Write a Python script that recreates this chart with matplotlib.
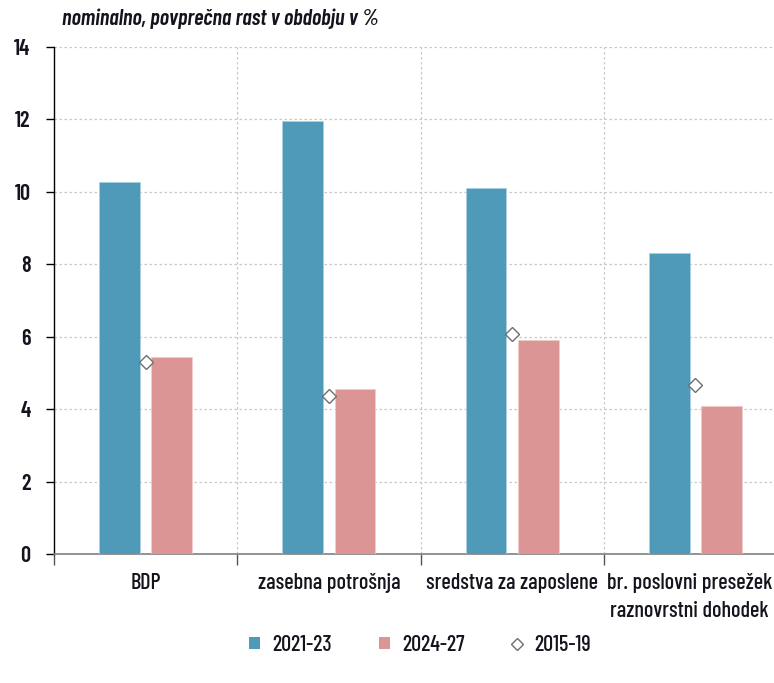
import numpy as np
import matplotlib
matplotlib.use("Agg")
import matplotlib.pyplot as plt
import matplotlib.transforms as mtransforms
from matplotlib.lines import Line2D
from matplotlib.patches import Patch

# growth rates by component, %
categories = ["BDP", "zasebna potrošnja", "sredstva za zaposlene",
              "br. poslovni presežek\nraznovrstni dohodek"]
rast_2021_23 = [10.27, 11.96, 10.10, 8.30]
rast_2024_27 = [5.43, 4.56, 5.90, 4.10]
rast_2015_19 = [5.30, 4.36, 6.07, 4.66]

TEAL = "#4f99b9"
PINK = "#da9594"
TXT = "#14141e"

plt.rcParams["font.family"] = ["Barlow Condensed", "DejaVu Sans"]
plt.rcParams["font.weight"] = 500

fig = plt.figure(figsize=(7.74, 6.83), dpi=100)
ax = fig.add_axes([54 / 774, 129 / 683, 733 / 774, 507 / 683])

x = np.arange(len(categories))
w = 0.222
ax.bar(x - 0.143, rast_2021_23, w, color=TEAL, edgecolor="#a9cfe0", linewidth=0.6, zorder=3)
ax.bar(x + 0.143, rast_2024_27, w, color=PINK, edgecolor="#f0cccb", linewidth=0.6, zorder=3)
ax.plot(x, rast_2015_19, linestyle="none", marker="D", markersize=7,
        markerfacecolor="white", markeredgecolor="#6e6e6e", markeredgewidth=1.0, zorder=4)

ax.set_xlim(-0.5, 3.5)
ax.set_ylim(0, 14)
ax.set_yticks(np.arange(0, 15, 2))
ax.set_xticks([-0.5, 0.5, 1.5, 2.5])
ax.set_xticklabels([])
ax.set_xticks(x, minor=True)
ax.set_xticklabels(categories, minor=True, fontsize=16, color=TXT,
                   linespacing=1.5)
ax.tick_params(axis="x", which="minor", length=0, pad=14)
ax.tick_params(axis="x", which="major", length=8, width=1, color="#555555", direction="out")
ax.tick_params(axis="y", length=6, width=1, color="black", pad=11, labelsize=16, labelcolor=TXT)
for lbl in ax.get_yticklabels():
    lbl.set_fontweight(600)

# last label sits against the right border, nudge it inwards
last = ax.get_xticklabels(minor=True)[-1]
last.set_transform(last.get_transform() +
                   mtransforms.ScaledTranslation(-6 / 100, 0, fig.dpi_scale_trans))

ax.grid(axis="y", linestyle=(0, (2, 2)), color="#c8c8c8", linewidth=0.9, zorder=0)
for b in [0.5, 1.5, 2.5]:
    ax.axvline(b, linestyle=(0, (2, 2)), color="#c8c8c8", linewidth=0.9, zorder=0)

for s in ["top", "right"]:
    ax.spines[s].set_visible(False)
ax.spines["left"].set_color("black")
ax.spines["left"].set_linewidth(1.0)
ax.spines["bottom"].set_color("#808080")
ax.spines["bottom"].set_linewidth(1.2)

fig.text(62 / 774, 1 - 19 / 683, "nominalno, povprečna rast v obdobju v %",
         fontsize=16, style="italic", fontweight=600, color=TXT, va="center")

handles = [Patch(facecolor=TEAL, edgecolor="none"),
           Patch(facecolor=PINK, edgecolor="none"),
           Line2D([], [], linestyle="none", marker="D", markersize=6,
                  markerfacecolor="white", markeredgecolor="#6e6e6e")]
fig.legend(handles, ["2021-23", "2024-27", "2015-19"], loc="center",
           bbox_to_anchor=(420 / 774, 1 - 645 / 683), ncol=3, frameon=False,
           prop={"size": 16, "weight": 500},
           handlelength=0.5, handleheight=0.5, handletextpad=0.55,
           columnspacing=2.1, labelcolor=TXT)

fig.savefig("out.png", dpi=100)
